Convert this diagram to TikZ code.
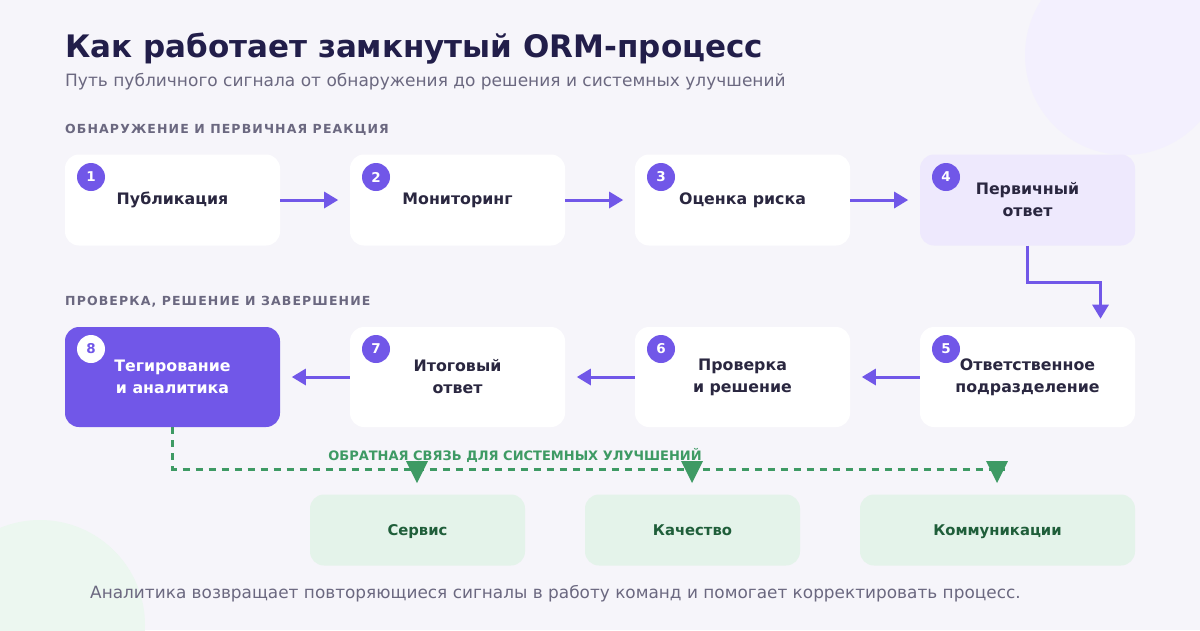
\documentclass[tikz,border=0pt]{standalone}
\usepackage{fontspec}
\setmainfont{DejaVu Sans}
\newfontfamily\spaced[LetterSpace=9]{DejaVu Sans}
\usetikzlibrary{arrows.meta,positioning}
\definecolor{bg}{HTML}{F6F5FA}
\definecolor{pur}{HTML}{7157E8}
\definecolor{lav}{HTML}{EEE9FD}
\definecolor{ink}{HTML}{2A2740}
\definecolor{ttl}{HTML}{221E4A}
\definecolor{gry}{HTML}{6B6880}
\definecolor{grn}{HTML}{3E9A64}
\definecolor{dgrn}{HTML}{1F5E3A}
\definecolor{lgrn}{HTML}{E4F3EA}
\begin{document}
\begin{tikzpicture}[x=1pt,y=-1pt,
 box/.style={rounded corners=14pt,minimum width=215pt,minimum height=91pt,fill=white,font=\bfseries\fontsize{15.8}{22}\selectfont,text=ink,align=center,inner sep=0pt},
 box2/.style={box,minimum height=100pt},
 gbox/.style={rounded corners=14pt,minimum width=215pt,minimum height=71pt,fill=lgrn,font=\bfseries\fontsize{14.8}{18}\selectfont,text=dgrn,inner sep=0pt,text height=11pt,text depth=0pt},
 num/.style={circle,fill=pur,text=white,minimum size=28pt,inner sep=0pt,font=\bfseries\fontsize{13.5}{13}\selectfont},
 arr/.style={pur,line width=3pt,-{Triangle[length=14pt,width=16pt]}},
 sec/.style={anchor=west,inner sep=0pt,text=gry,font=\spaced\bfseries\fontsize{12.5}{12}\selectfont}]
\fill[bg] (0,0) rectangle (1200,630);
\useasboundingbox (0,0) rectangle (1200,630);
\fill[lav!70] (1125,55) circle (100);
\fill[lgrn!70] (40,625) circle (105);
\node[anchor=base west,inner sep=0pt,text=ttl,font=\bfseries\fontsize{31}{31}\selectfont] (t) at (65,57) {Как работает замкнутый ORM-процесс};
\node[anchor=base west,inner sep=0pt,text=gry,font=\fontsize{17}{17}\selectfont] (s) at (65,86) {Путь публичного сигнала от обнаружения до решения и системных улучшений};
\node[sec] (s1) at (65,130) {ОБНАРУЖЕНИЕ И ПЕРВИЧНАЯ РЕАКЦИЯ};
\node[sec] (s2) at (65,302) {ПРОВЕРКА, РЕШЕНИЕ И ЗАВЕРШЕНИЕ};
\node[box] (b1) at (172.5,200) {Публикация};
\node[box] (b2) at (457.5,200) {Мониторинг};
\node[box] (b3) at (742.5,200) {Оценка риска};
\node[box,fill=lav] (b4) at (1027.5,200) {Первичный\\ответ};
\node[box2] (b5) at (1027.5,377) {Ответственное\\подразделение};
\node[box2] (b6) at (742.5,377) {Проверка\\и решение};
\node[box2] (b7) at (457.5,377) {Итоговый\\ответ};
\node[box2,fill=pur,text=white] (b8) at (172.5,377) {Тегирование\\и аналитика};
\node[num] (n1) at (91,177) {1};
\node[num] (n2) at (376,177) {2};
\node[num] (n3) at (661,177) {3};
\node[num] (n4) at (946,177) {4};
\node[num] (n5) at (946,349) {5};
\node[num] (n6) at (661,349) {6};
\node[num] (n7) at (376,349) {7};
\node[num,fill=white,text=pur] (n8) at (91,349) {8};
\draw[arr] (b1.east) -- ++(58,0);
\draw[arr] (b2.east) -- ++(58,0);
\draw[arr] (b3.east) -- ++(58,0);
\draw[arr] (b5.west) -- ++(-58,0);
\draw[arr] (b6.west) -- ++(-58,0);
\draw[arr] (b7.west) -- ++(-58,0);
\draw[arr] (b4.south) -- ++(0,37) -| ++(73,36);
\coordinate (fe) at (1005,469);
\draw[grn,line width=3pt,dash pattern=on 7pt off 6pt] (b8.south) |- (fe);
\foreach \x in {417,692,997} \fill[grn] (\x-11,461) -- (\x+11,461) -- (\x,483) -- cycle;
\node[text=grn,font=\bfseries\fontsize{13}{13}\selectfont] (fl) at (515,455) {ОБРАТНАЯ СВЯЗЬ ДЛЯ СИСТЕМНЫХ УЛУЧШЕНИЙ};
\node[gbox] (g1) at (417.5,530) {Сервис};
\node[gbox] (g2) at (692.5,530) {Качество};
\node[gbox,minimum width=275pt] (g3) at (997.5,530) {Коммуникации};
\node[anchor=base west,inner sep=0pt,text=gry,font=\fontsize{16.9}{16}\selectfont] (f) at (90,598) {Аналитика возвращает повторяющиеся сигналы в работу команд и помогает корректировать процесс.};
\end{tikzpicture}
\end{document}
